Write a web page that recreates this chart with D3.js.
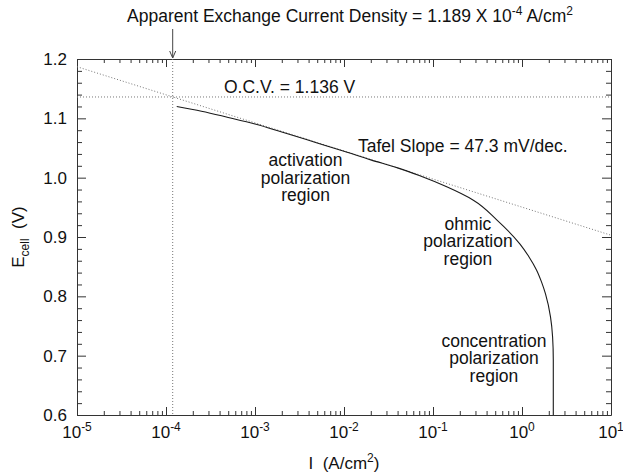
<!DOCTYPE html>
<html>
<head>
<meta charset="utf-8">
<script src="https://cdn.jsdelivr.net/npm/d3@7"></script>
<style>
  body { margin: 0; background: #fff; }
  text { font-family: "Liberation Sans", Arial, Helvetica, sans-serif; fill: #111; }
  .pre { white-space: pre; }
</style>
</head>
<body>
<svg id="chart" width="623" height="476"></svg>
<script>
// Polarization curve: current density (A/cm^2) vs cell potential (V)
const currentDensity = [1.32e-4, 2.5e-4, 5e-4, 1e-3, 2e-3, 5e-3, 1e-2, 2e-2, 4e-2, 7e-2,
  0.1426, 0.284, 0.52, 0.95, 1.20, 1.455, 1.656, 1.837, 2.09, 2.207, 2.247, 2.247];
const cellVoltage = [1.120, 1.112, 1.1015, 1.0905, 1.077, 1.0585, 1.0445, 1.030, 1.0165, 1.0035,
  0.9845, 0.962, 0.929, 0.888, 0.8664, 0.8445, 0.8243, 0.804, 0.7653, 0.7315, 0.6927, 0.600];

// Tafel extrapolation line end points
const tafelCurrent = [1e-5, 10];
const tafelVoltage = [1.187, 0.903];

const openCircuitVoltage = 1.136;
const exchangeCurrent = 1.189e-4;

const xTickExponents = [-5, -4, -3, -2, -1, 0, 1];
const yTickValues = [0.6, 0.7, 0.8, 0.9, 1.0, 1.1, 1.2];

const regionLabels = [
  { lines: ["activation", "polarization", "region"], i: 3.7e-3, e: 1.019 },
  { lines: ["ohmic", "polarization", "region"], i: 0.247, e: 0.912 },
  { lines: ["concentration", "polarization", "region"], i: 0.484, e: 0.715 }
];

const svg = d3.select("#chart");
const plot = { left: 77, right: 611, top: 59, bottom: 415 };

const x = d3.scaleLog().domain([1e-5, 10]).range([plot.left, plot.right]);
const y = d3.scaleLinear().domain([0.6, 1.2]).range([plot.bottom, plot.top]);

const majorX = xTickExponents.map(e => Math.pow(10, e));
const minorX = [];
xTickExponents.slice(0, -1).forEach(e => {
  for (let k = 2; k <= 9; k++) minorX.push(k * Math.pow(10, e));
});
const minorY = y.ticks(30).filter(v => Math.abs(v * 10 - Math.round(v * 10)) > 1e-6);

const axisColor = "#333";
function styleAxis(g) {
  g.selectAll("path.domain").attr("stroke", axisColor).attr("stroke-width", 1);
  g.selectAll(".tick line").attr("stroke", axisColor).attr("stroke-width", 1);
  g.selectAll(".tick text").remove();
}

// frame axes with inward ticks on all four sides
function drawAxis(makeAxis, scale, transform, major, minor, majorLen, minorLen) {
  svg.append("g").attr("transform", transform)
    .call(makeAxis(scale).tickValues(major).tickSize(-majorLen).tickSizeOuter(0).tickFormat(""))
    .call(styleAxis);
  svg.append("g").attr("transform", transform)
    .call(makeAxis(scale).tickValues(minor).tickSize(-minorLen).tickSizeOuter(0).tickFormat(""))
    .call(g => g.select("path.domain").remove())
    .call(styleAxis);
}
drawAxis(d3.axisBottom, x, `translate(0,${plot.bottom})`, majorX, minorX, 8, 4);
drawAxis(d3.axisTop, x, `translate(0,${plot.top})`, majorX, minorX, 8, 4);
drawAxis(d3.axisLeft, y, `translate(${plot.left},0)`, yTickValues, minorY, 9, 5);
drawAxis(d3.axisRight, y, `translate(${plot.right},0)`, yTickValues, minorY, 9, 5);

// tick labels
const fs = 17, fsNote = 17.5, lineGap = 17.5;
yTickValues.forEach(v => {
  svg.append("text").attr("x", plot.left - 10).attr("y", y(v)).attr("dy", "0.35em")
    .attr("text-anchor", "end").attr("font-size", fs).text(d3.format(".1f")(v));
});
xTickExponents.forEach(e => {
  const t = svg.append("text").attr("x", x(Math.pow(10, e))).attr("y", 438)
    .attr("text-anchor", "middle").attr("font-size", fs);
  t.append("tspan").text("10");
  t.append("tspan").attr("dy", -7).attr("font-size", 12).text(String(e));
});

// axis titles
const xt = svg.append("text").attr("class", "pre").attr("x", (plot.left + plot.right) / 2).attr("y", 469)
  .attr("text-anchor", "middle").attr("font-size", fs);
xt.append("tspan").text("I  (A/cm");
xt.append("tspan").attr("dy", -7).attr("font-size", 12).text("2");
xt.append("tspan").attr("dy", 7).text(")");

const yt = svg.append("text").attr("class", "pre")
  .attr("transform", `translate(24,${(plot.top + plot.bottom) / 2}) rotate(-90)`)
  .attr("text-anchor", "middle").attr("font-size", fs);
yt.append("tspan").text("E");
yt.append("tspan").attr("dy", 5).attr("font-size", 12).text("cell");
yt.append("tspan").attr("dy", -5).text("  (V)");

// dotted guide lines
const dotted = { stroke: "#777", "stroke-width": 1, "stroke-dasharray": "1,2" };
function applyAttrs(sel, attrs) { Object.entries(attrs).forEach(([k, v]) => sel.attr(k, v)); return sel; }

applyAttrs(svg.append("line")
  .attr("x1", x(1e-5)).attr("x2", x(10))
  .attr("y1", y(openCircuitVoltage)).attr("y2", y(openCircuitVoltage)), dotted);
applyAttrs(svg.append("line")
  .attr("x1", x(exchangeCurrent)).attr("x2", x(exchangeCurrent))
  .attr("y1", y(1.2)).attr("y2", y(0.6)), dotted);
applyAttrs(svg.append("path")
  .datum(d3.zip(tafelCurrent, tafelVoltage))
  .attr("fill", "none")
  .attr("d", d3.line().x(d => x(d[0])).y(d => y(d[1]))), dotted);

// polarization curve
svg.append("path")
  .datum(d3.zip(currentDensity, cellVoltage))
  .attr("fill", "none").attr("stroke", "#1a1a1a").attr("stroke-width", 1.1)
  .attr("d", d3.line().curve(d3.curveMonotoneY).x(d => x(d[0])).y(d => y(d[1])));

// exchange current annotation with arrow
const ax0 = x(exchangeCurrent);
svg.append("line").attr("x1", ax0).attr("x2", ax0).attr("y1", 29).attr("y2", plot.top - 1)
  .attr("stroke", "#444").attr("stroke-width", 1);
svg.append("path")
  .attr("d", `M${ax0 - 3},${plot.top - 8} L${ax0},${plot.top - 1} L${ax0 + 3},${plot.top - 8}`)
  .attr("fill", "none").attr("stroke", "#444").attr("stroke-width", 1);

const title = svg.append("text").attr("class", "pre").attr("x", 350).attr("y", 22)
  .attr("text-anchor", "middle").attr("font-size", fsNote);
title.append("tspan").text("Apparent Exchange Current Density = 1.189 X 10");
title.append("tspan").attr("dy", -7).attr("font-size", 12).text("-4");
title.append("tspan").attr("dy", 7).text(" A/cm");
title.append("tspan").attr("dy", -7).attr("font-size", 12).text("2");

svg.append("text").attr("x", 224).attr("y", 93).attr("font-size", fsNote)
  .text("O.C.V. = 1.136 V");
svg.append("text").attr("x", 358).attr("y", 152).attr("font-size", fsNote)
  .text("Tafel Slope = 47.3 mV/dec.");

// region labels
regionLabels.forEach(r => {
  const t = svg.append("text").attr("text-anchor", "middle").attr("font-size", fsNote);
  r.lines.forEach((ln, i) => {
    t.append("tspan").attr("x", x(r.i)).attr("y", y(r.e) + i * lineGap).text(ln);
  });
});
</script>
</body>
</html>
